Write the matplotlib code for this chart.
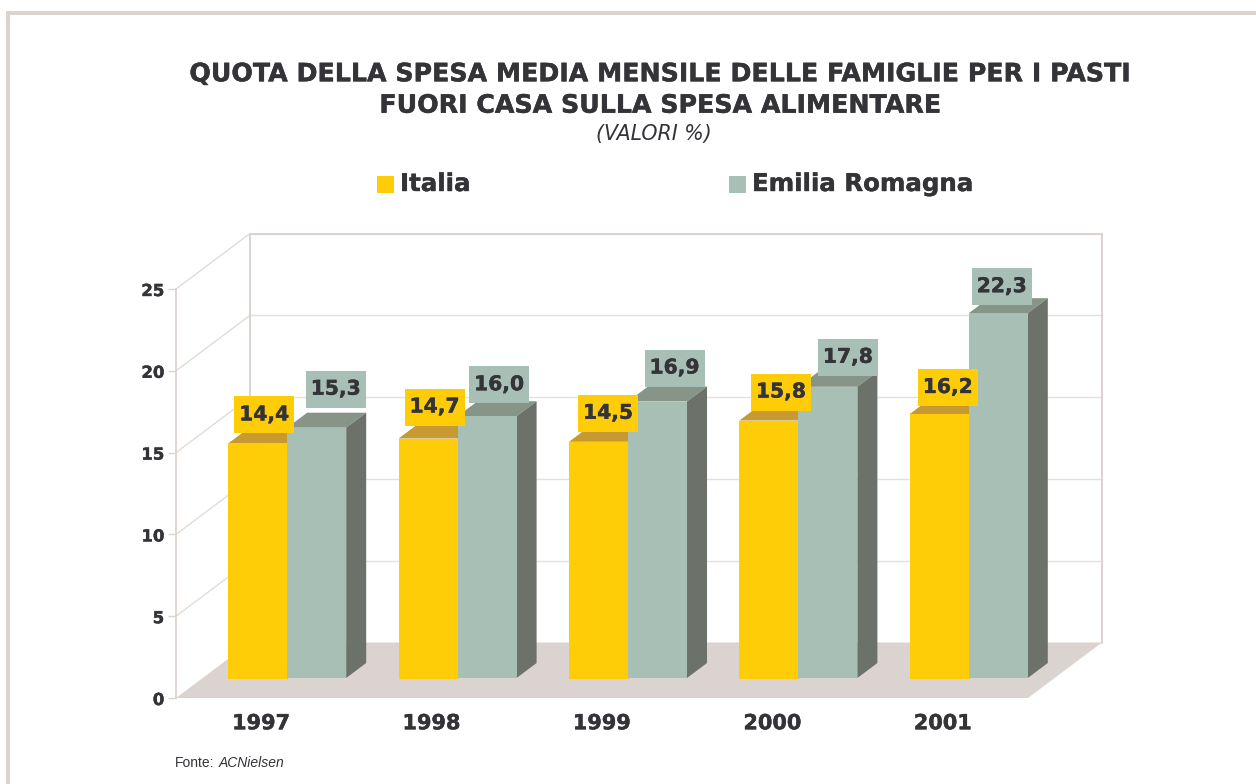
import matplotlib

matplotlib.use("Agg")
import matplotlib.pyplot as plt
import matplotlib.patheffects as pe
from matplotlib.lines import Line2D
from matplotlib.patches import Polygon, Rectangle

plt.rcParams["font.family"] = ["DejaVu Sans"]

anni = ["1997", "1998", "1999", "2000", "2001"]
italia = [14.4, 14.7, 14.5, 15.8, 16.2]
emilia = [15.3, 16.0, 16.9, 17.8, 22.3]
y_ticks = [0, 5, 10, 15, 20, 25]

titolo = "QUOTA DELLA SPESA MEDIA MENSILE DELLE FAMIGLIE PER I PASTI\nFUORI CASA SULLA SPESA ALIMENTARE"
sottotitolo = "(VALORI %)"

# spostamento delle etichette rispetto alla cima della barra, in pixel
off_italia_x = [6.5, 6.5, 9.5, 12, 8.5]
off_italia_y = [28.5, 31.5, 28.5, 28.5, 26.5]
off_emilia_x = [19, 12, 17, 20, 3.5]
off_emilia_y = [38.5, 31.5, 33.5, 29.5, 26.5]

GIALLO = "#FFCC08"
GIALLO_TOP = "#C69A30"
VERDE = "#A7BFB4"
VERDE_TOP = "#869588"
VERDE_LATO = "#6C7169"
BEIGE = "#DBD3CF"
TESTO = "#333338"

# tratto sottile per avvicinare il peso del grassetto originale
PESO = [pe.withStroke(linewidth=0.3, foreground=TESTO)]

W, H = 1256, 784
fig = plt.figure(figsize=(W / 100, H / 100), dpi=100)
fig.patch.set_facecolor("white")


def fx(px):
    return px / W


def fy(py):
    return 1 - py / H


# piano frontale: x 176-1028, y 698-289
ax = fig.add_axes([fx(176), fy(698), (1028 - 176) / W, (698 - 289) / H])
ax.set_xlim(0, 5)
ax.set_ylim(0, 25)
ax.patch.set_visible(False)

UX = 5 / (1028 - 176)  # unita dati per pixel
UY = 25 / (698 - 289)
PROF_X, PROF_Y = 74 * UX, 55.5 * UY


def poly(punti, colore, z):
    ax.add_patch(Polygon(punti, closed=True, facecolor=colore, edgecolor="none",
                         linewidth=0, zorder=z, clip_on=False))


def linea(xs, ys, lw=1.3, colore=BEIGE, z=1):
    ax.add_line(Line2D(xs, ys, color=colore, lw=lw, zorder=z, clip_on=False))


# pavimento e pareti
poly([(0, 0), (5, 0), (5 + PROF_X, PROF_Y), (PROF_X, PROF_Y)], BEIGE, 1)
for v in y_ticks[1:]:
    linea([PROF_X, 5 + PROF_X], [v + PROF_Y, v + PROF_Y], lw=1.0, colore="#E6E0DD")
    linea([0, PROF_X], [v, v + PROF_Y], lw=1.0, colore="#E2DCD9")
linea([PROF_X, PROF_X], [PROF_Y, 25 + PROF_Y], lw=1.4)
linea([5 + PROF_X, 5 + PROF_X], [PROF_Y, 25 + PROF_Y], lw=1.4)
linea([PROF_X, 5 + PROF_X], [25 + PROF_Y, 25 + PROF_Y], lw=1.4)


def barra(x0, valore, base, colore, top, lato, z):
    larg = 59 * UX
    dx, dy = 20 * UX, 15 * UY
    y0 = base * UY
    y1 = y0 + valore
    poly([(x0, y1), (x0 + larg, y1), (x0 + larg + dx, y1 + dy), (x0 + dx, y1 + dy)], top, z)
    poly([(x0 + larg, y0), (x0 + larg + dx, y0 + dy), (x0 + larg + dx, y1 + dy), (x0 + larg, y1)], lato, z)
    poly([(x0, y0), (x0 + larg, y0), (x0 + larg, y1), (x0, y1)], colore, z + 0.5)


def etichetta(xc, valore, base, off_x, off_y, colore):
    # riquadro fisso 60x37 px con il valore centrato
    xc = xc + off_x * UX
    yc = base * UY + valore + off_y * UY
    ax.add_patch(Rectangle((xc - 30 * UX, yc - 18.5 * UY), 60 * UX, 37 * UY,
                           facecolor=colore, edgecolor="none", zorder=10, clip_on=False))
    ax.text(xc, yc, f"{valore:.1f}".replace(".", ","), ha="center", va="center",
            fontsize=14.6, fontweight="bold", color=TESTO, zorder=11, path_effects=PESO)


for i in range(len(anni)):
    centro = i + 0.5 + 26 * UX
    barra(centro - 59 * UX, italia[i], 19, GIALLO, GIALLO_TOP, GIALLO_TOP, 3 + i)
    barra(centro, emilia[i], 20, VERDE, VERDE_TOP, VERDE_LATO, 3.7 + i)

for i in range(len(anni)):
    centro = i + 0.5 + 26 * UX
    etichetta(centro - 29.5 * UX, italia[i], 19, off_italia_x[i], off_italia_y[i], GIALLO)
    etichetta(centro + 29.5 * UX, emilia[i], 20, off_emilia_x[i], off_emilia_y[i], VERDE)

# assi
for nome in ["top", "right", "bottom"]:
    ax.spines[nome].set_visible(False)
ax.spines["left"].set_color(BEIGE)
ax.spines["left"].set_linewidth(1.3)
ax.set_yticks(y_ticks)
ax.set_yticklabels([str(v) for v in y_ticks], fontsize=11.9, fontweight="bold", color=TESTO,
                   path_effects=PESO)
ax.tick_params(axis="y", length=5.5, width=1.0, color=BEIGE, pad=3)
ax.set_xticks([i + 0.5 for i in range(len(anni))])
ax.set_xticklabels(anni, fontsize=15, fontweight="bold", color=TESTO, path_effects=PESO)
ax.tick_params(axis="x", length=0, pad=11)

# titolo
fig.text(fx(660), fy(90), titolo, ha="center", va="center", fontsize=18.2, fontweight="bold",
         color=TESTO, linespacing=1.39, path_effects=PESO)
fig.text(fx(654), fy(134), sottotitolo, ha="center", va="center", fontsize=14.8, style="italic",
         color=TESTO)

# legenda
for x_q, nome, x_t, col in [(377, "Italia", 400, GIALLO), (729, "Emilia Romagna", 752, VERDE)]:
    fig.add_artist(Rectangle((fx(x_q), fy(193)), 17 / W, 17 / H, facecolor=col, edgecolor="none",
                             transform=fig.transFigure))
    fig.text(fx(x_t), fy(184), nome, ha="left", va="center", fontsize=17.6, fontweight="bold",
             color=TESTO, path_effects=PESO)

# fonte
fig.text(fx(175), fy(763), "Fonte:", ha="left", va="center", fontsize=10, color=TESTO,
         family="Liberation Sans")
fig.text(fx(219), fy(763), "ACNielsen", ha="left", va="center", fontsize=10, style="italic",
         color=TESTO, family="Liberation Sans")

# cornice esterna, solo in alto e a sinistra
fig.add_artist(Rectangle((fx(6), 0), 4 / W, fy(11), facecolor=BEIGE, edgecolor="none",
                         transform=fig.transFigure))
fig.add_artist(Rectangle((fx(6), fy(15)), 1 - fx(6), 4 / H, facecolor=BEIGE, edgecolor="none",
                         transform=fig.transFigure))

fig.savefig("out.png", dpi=100)
plt.close(fig)
